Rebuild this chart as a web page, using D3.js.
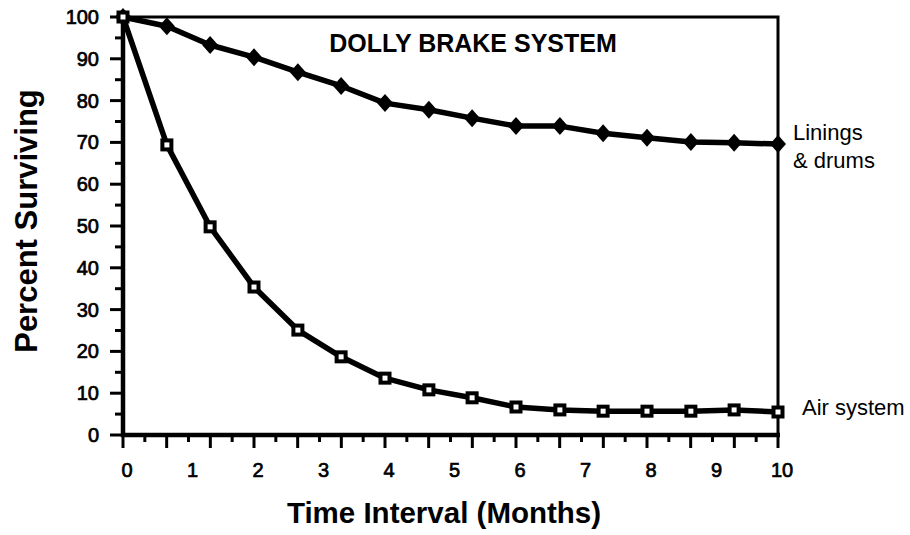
<!DOCTYPE html>
<html>
<head>
<meta charset="utf-8">
<script src="https://cdn.jsdelivr.net/npm/d3@7"></script>
<style>
  body { margin: 0; background: #fff; }
  text { font-family: "Liberation Sans", Arial, Helvetica, sans-serif; fill: #000; }
</style>
</head>
<body>
<div id="chart"></div>
<script>
// time in months, one reading every ~20 days
var months = [0, 0.67, 1.33, 2, 2.67, 3.33, 4, 4.67, 5.33, 6, 6.67, 7.33, 8, 8.67, 9.33, 10];
var linings = [100, 97.8, 93.3, 90.4, 86.8, 83.5, 79.4, 77.8, 75.8, 73.9, 73.9, 72.2, 71.1, 70.1, 69.9, 69.6];
var airSystem = [100, 69.4, 49.8, 35.4, 25.1, 18.7, 13.6, 10.8, 8.9, 6.7, 6.0, 5.7, 5.7, 5.7, 6.0, 5.5];
var xTickLabels = [0, 1, 2, 3, 4, 5, 6, 7, 8, 9, 10];
var yTickLabels = [0, 10, 20, 30, 40, 50, 60, 70, 80, 90, 100];

var svg = d3.select("#chart").append("svg")
  .attr("width", 910)
  .attr("height", 535);

var x = d3.scaleLinear().domain([0, 10]).range([123, 778]);
var y = d3.scaleLinear().domain([0, 100]).range([435, 17]);

var line = d3.line()
  .x(function(d) { return x(d.t); })
  .y(function(d) { return y(d.v); });

function pairs(vals) {
  return vals.map(function(v, i) { return {t: months[i], v: v}; });
}

// frame: top and right sides
svg.append("path")
  .attr("d", "M" + x(0) + "," + y(100) + "H" + x(10) + "V" + y(0))
  .attr("fill", "none")
  .attr("stroke", "#000")
  .attr("stroke-width", 3);

// y axis ticks, minor every 5
var yMinor = d3.range(0, 101, 5);
svg.selectAll(".ytick").data(yMinor).enter().append("line")
  .attr("x1", function(d) { return d % 10 === 0 ? x(0) - 13 : x(0) - 8; })
  .attr("x2", x(0))
  .attr("y1", function(d) { return y(d); })
  .attr("y2", function(d) { return y(d); })
  .attr("stroke", "#000")
  .attr("stroke-width", 3);

svg.selectAll(".ylab").data(yTickLabels).enter().append("text")
  .text(function(d) { return d; })
  .attr("x", 99)
  .attr("y", function(d) { return y(d) + 7; })
  .attr("text-anchor", "end")
  .style("font-size", "20px")
  .style("stroke", "#000")
  .style("stroke-width", 0.7);

// x axis ticks: long at each reading, short halfway between
var xMinor = d3.range(0, 31).map(function(i) { return i / 3; });
svg.selectAll(".xtick").data(xMinor).enter().append("line")
  .attr("x1", function(d) { return x(d); })
  .attr("x2", function(d) { return x(d); })
  .attr("y1", y(0))
  .attr("y2", function(d, i) { return i % 2 === 0 ? y(0) + 13 : y(0) + 7; })
  .attr("stroke", "#000")
  .attr("stroke-width", 3);

svg.selectAll(".xlab").data(xTickLabels).enter().append("text")
  .text(function(d) { return d; })
  .attr("x", function(d) { return x(d) + 4; })
  .attr("y", 477)
  .attr("text-anchor", "middle")
  .style("font-size", "20px")
  .style("stroke", "#000")
  .style("stroke-width", 0.7);

// axis lines
svg.append("path")
  .attr("d", "M" + x(0) + "," + (y(100) - 2) + "V" + y(0) + "H" + (x(10) + 2))
  .attr("fill", "none")
  .attr("stroke", "#000")
  .attr("stroke-width", 4.5);

// series lines
svg.append("path").datum(pairs(linings))
  .attr("d", line)
  .attr("fill", "none")
  .attr("stroke", "#000")
  .attr("stroke-width", 5.5)
  .attr("stroke-linejoin", "round");

svg.append("path").datum(pairs(airSystem))
  .attr("d", line)
  .attr("fill", "none")
  .attr("stroke", "#000")
  .attr("stroke-width", 5.5)
  .attr("stroke-linejoin", "round");

// diamonds
svg.selectAll(".diamond").data(pairs(linings)).enter().append("path")
  .attr("d", "M0,-9L8,0L0,9L-8,0Z")
  .attr("transform", function(d) { return "translate(" + x(d.t) + "," + y(d.v) + ")"; })
  .attr("fill", "#000");

// open squares
svg.selectAll(".square").data(pairs(airSystem)).enter().append("rect")
  .attr("x", function(d) { return x(d.t) - 4.5; })
  .attr("y", function(d) { return y(d.v) - 4.5; })
  .attr("width", 9)
  .attr("height", 9)
  .attr("fill", "#fff")
  .attr("stroke", "#000")
  .attr("stroke-width", 4);

// labels
svg.append("text")
  .text("DOLLY BRAKE SYSTEM")
  .attr("x", 473)
  .attr("y", 52)
  .attr("text-anchor", "middle")
  .style("font-size", "25px")
  .style("font-weight", "bold");

svg.append("text")
  .text("Linings")
  .attr("x", 793)
  .attr("y", 140)
  .style("font-size", "22px");

svg.append("text")
  .text("& drums")
  .attr("x", 793)
  .attr("y", 168)
  .style("font-size", "22px");

svg.append("text")
  .text("Air system")
  .attr("x", 802)
  .attr("y", 415)
  .style("font-size", "22px");

svg.append("text")
  .text("Time Interval (Months)")
  .attr("x", 444)
  .attr("y", 523)
  .attr("text-anchor", "middle")
  .style("font-size", "29.5px")
  .style("font-weight", "bold");

svg.append("text")
  .text("Percent Surviving")
  .attr("transform", "translate(37,221) rotate(-90)")
  .attr("text-anchor", "middle")
  .style("font-size", "31px")
  .style("font-weight", "bold");
</script>
</body>
</html>
